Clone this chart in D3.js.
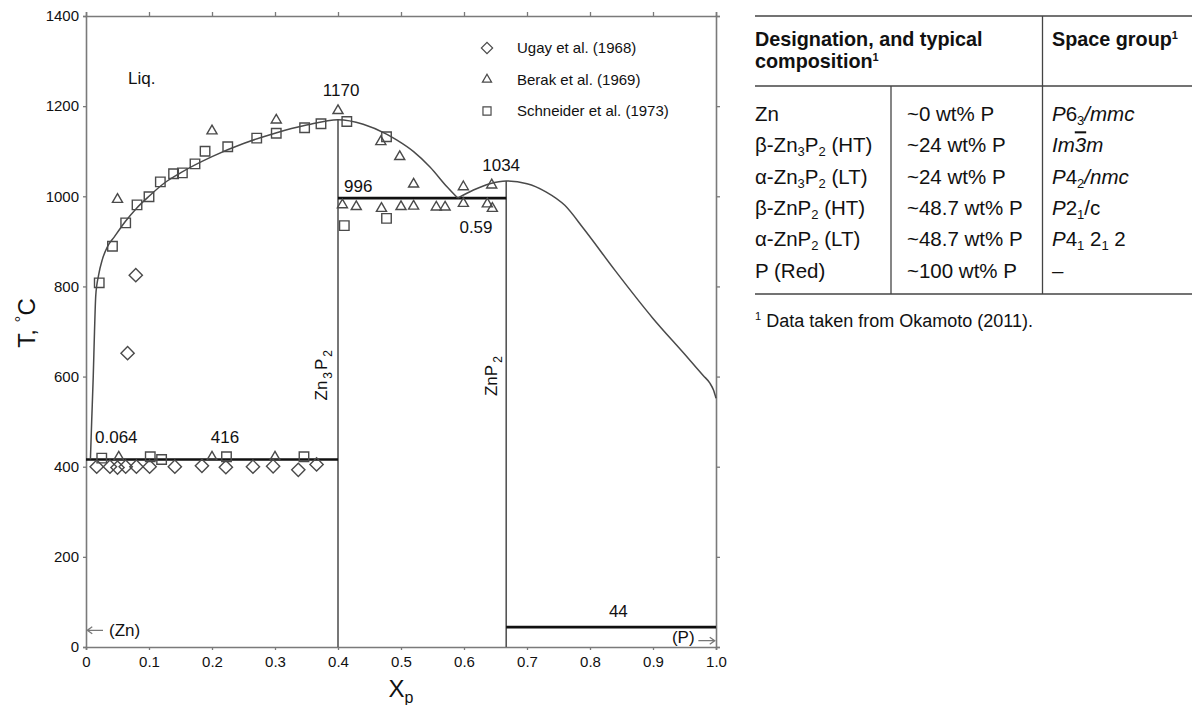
<!DOCTYPE html>
<html>
<head>
<meta charset="utf-8">
<script src="https://cdn.jsdelivr.net/npm/d3@7"></script>
<style>
  body { margin: 0; background: #fff; }
  svg { font-family: "Liberation Sans", Arial, Helvetica, sans-serif; }
</style>
</head>
<body>
<div id="graph"></div>
<script>
// ---- data (X_p, T in °C) ----
const ugay = [[0.079,825],[0.066,652],[0.017,400],[0.038,400],[0.050,398],[0.063,400],[0.080,400],
  [0.101,400],[0.141,400],[0.184,402],[0.222,399],[0.265,400],[0.297,401],[0.337,393],[0.366,405]];
const berak = [[0.050,993],[0.200,1145],[0.302,1169],[0.400,1190],[0.468,1121],[0.498,1088],[0.520,1027],
  [0.407,981],[0.429,977],[0.469,973],[0.500,977],[0.520,978],[0.556,976],[0.570,976],[0.599,1021],
  [0.599,984],[0.644,1025],[0.637,983],[0.645,973],[0.052,421],[0.200,421],[0.300,421]];
const schneider = [[0.021,808],[0.042,889],[0.063,941],[0.081,981],[0.100,999],[0.118,1032],[0.139,1050],
  [0.153,1052],[0.173,1072],[0.189,1100],[0.225,1110],[0.271,1129],[0.302,1140],[0.347,1152],[0.373,1161],
  [0.414,1166],[0.410,935],[0.477,1132],[0.477,951],[0.025,419],[0.102,422],[0.120,416],[0.223,422],[0.346,422]];

// liquidus, Zn side up to Zn3P2 and down to the 0.59 eutectic
const liquidusA = [[0.007,416],[0.009,500],[0.0115,600],[0.0135,700],[0.0155,780],[0.02,825],[0.026,860],
  [0.034,888],[0.045,910],[0.054,928],[0.063,945],[0.08,973],[0.1,1000],[0.125,1030],[0.15,1052],
  [0.2,1088],[0.25,1117],[0.3,1140],[0.35,1158],[0.4,1170],[0.44,1160],[0.477,1138],[0.493,1125],
  [0.52,1099],[0.546,1065],[0.573,1021],[0.59,996]];
// liquidus, eutectic over ZnP2 to P
const liquidusB = [[0.59,996],[0.615,1014],[0.641,1028],[0.667,1034],[0.70,1028],[0.73,1010],[0.76,980],
  [0.79,928],[0.84,835],[0.90,729],[0.95,650],[0.98,602],[0.99,586],[0.996,570],[1.0,552]];

// invariant lines [x1, x2, T]
const isotherms = [[0,0.4,416],[0.4,0.667,996],[0.667,1.0,44]];
// compound lines [x, Tmax]
const compounds = [[0.4,1170],[0.667,1034]];

const xTicks = [0,0.1,0.2,0.3,0.4,0.5,0.6,0.7,0.8,0.9,1.0];
const yTicks = [0,200,400,600,800,1000,1200,1400];

const legendNames = ["Ugay et al. (1968)","Berak et al. (1969)","Schneider et al. (1973)"];

// annotation text placed at data coordinates
const notes = [
  {t:"Liq.", x:0.0667, T:1249, a:"start"},
  {t:"1170", x:0.405, T:1222, a:"middle"},
  {t:"996", x:0.4095, T:1009, a:"start"},
  {t:"1034", x:0.659, T:1056, a:"middle"},
  {t:"0.59", x:0.619, T:918, a:"middle"},
  {t:"0.064", x:0.0143, T:452, a:"start"},
  {t:"416", x:0.198, T:452, a:"start"},
  {t:"44", x:0.845, T:66, a:"middle"}
];

// table contents; "_" = subscript digit, segments for space group
const tblDesig = ["Zn","β-Zn_3P_2 (HT)","α-Zn_3P_2 (LT)","β-ZnP_2 (HT)","α-ZnP_2 (LT)","P (Red)"];
const tblComp = ["~0 wt% P","~24 wt% P","~24 wt% P","~48.7 wt% P","~48.7 wt% P","~100 wt% P"];
const tblSpace = [
  [{t:"P",i:1},{t:"6"},{t:"3",s:1},{t:"/mmc",i:1}],
  [{t:"Im",i:1},{t:"3",i:1,o:1},{t:"m",i:1}],
  [{t:"P",i:1},{t:"4"},{t:"2",s:1},{t:"/nmc",i:1}],
  [{t:"P",i:1},{t:"2"},{t:"1",s:1},{t:"/c"}],
  [{t:"P",i:1},{t:"4"},{t:"1",s:1},{t:" 2"},{t:"1",s:1},{t:" 2"}],
  [{t:"–"}]
];

// ---- chart ----
const W = 1192, H = 705;
const svg = d3.select("#graph").append("svg").attr("width", W).attr("height", H);

const xScale = d3.scaleLinear().domain([0,1]).range([86,716]);
const yScale = d3.scaleLinear().domain([0,1400]).range([647,16]);
const frameCol = "#7a7a7a";
const markCol = "#4a4a4a";

//axes
const gx = svg.append("g").attr("transform","translate(0,647)")
  .call(d3.axisBottom(xScale).tickValues(xTicks).tickSize(3).tickPadding(6)
    .tickFormat(d => d === 0 ? "0" : d.toFixed(1)));
const gy = svg.append("g").attr("transform","translate(86,0)")
  .call(d3.axisLeft(yScale).tickValues(yTicks).tickSize(3).tickPadding(4).tickFormat(d3.format("d")));
const gt = svg.append("g").attr("transform","translate(0,16)")
  .call(d3.axisTop(xScale).tickValues(xTicks).tickSize(4).tickFormat(""));
const gr = svg.append("g").attr("transform","translate(716,0)")
  .call(d3.axisRight(yScale).tickValues(yTicks).tickSize(4).tickFormat(""));
[gx,gy,gt,gr].forEach(g => {
  g.select(".domain").attr("stroke", frameCol).attr("stroke-width", 1.6);
  g.selectAll(".tick line").attr("stroke", frameCol).attr("stroke-width", 1.3);
  g.selectAll(".tick text").attr("fill","#111").style("font-size","15px")
    .style("font-family", "'Liberation Sans', Arial, sans-serif");
});

// compound vertical lines
svg.selectAll(".comp").data(compounds).enter().append("line")
  .attr("x1", d => xScale(d[0])).attr("x2", d => xScale(d[0]))
  .attr("y1", yScale(0)).attr("y2", d => yScale(d[1]))
  .attr("stroke", "#555").attr("stroke-width", 1.6);

// isotherms
svg.selectAll(".iso").data(isotherms).enter().append("line")
  .attr("x1", d => xScale(d[0])).attr("x2", d => xScale(d[1]))
  .attr("y1", d => yScale(d[2])).attr("y2", d => yScale(d[2]))
  .attr("stroke", "#111").attr("stroke-width", 2.6);

// liquidus
const line = d3.line().x(d => xScale(d[0])).y(d => yScale(d[1])).curve(d3.curveMonotoneX);
[liquidusA, liquidusB].forEach(arr => {
  svg.append("path").attr("d", line(arr)).attr("fill","none")
    .attr("stroke", "#4a4a4a").attr("stroke-width", 1.5);
});

// markers
const shapes = [
  {data: ugay, sym: d3.symbol().type(d3.symbolSquare).size(88), rot: 45},
  {data: berak, sym: d3.symbol().type(d3.symbolTriangle).size(44), rot: 0},
  {data: schneider, sym: d3.symbol().type(d3.symbolSquare).size(90), rot: 0}
];
shapes.forEach(s => {
  svg.append("g").selectAll("path").data(s.data).enter().append("path")
    .attr("d", s.sym())
    .attr("transform", d => "translate(" + xScale(d[0]) + "," + yScale(d[1]) + ") rotate(" + s.rot + ")")
    .attr("fill","none").attr("stroke", markCol).attr("stroke-width", 1.4);
});

// legend
const legend = svg.append("g").attr("transform","translate(487,48)");
shapes.forEach((s,i) => {
  const scl = i === 1 ? 0.9 : 0.85;
  legend.append("path").attr("d", s.sym())
    .attr("transform", "translate(0," + (i*31.5) + ") rotate(" + s.rot + ") scale(" + scl + ")")
    .attr("fill","none").attr("stroke", markCol).attr("stroke-width", 1.4);
  legend.append("text").text(legendNames[i])
    .attr("x", 30).attr("y", i*31.5 + 5)
    .style("font-size","15px").attr("fill","#111");
});

// annotations
svg.selectAll(".note").data(notes).enter().append("text")
  .attr("x", d => xScale(d.x)).attr("y", d => yScale(d.T))
  .attr("text-anchor", d => d.a)
  .style("font-size","17px").attr("fill","#111")
  .text(d => d.t);

// end-member arrows
const arrow = (xa, xb, tv) => {
  const y = yScale(tv), x1 = xScale(xa), x2 = xScale(xb), dir = Math.sign(x2 - x1);
  svg.append("path")
    .attr("d", "M" + x1 + "," + y + "H" + x2 + "M" + (x2 - dir*5) + "," + (y-3.5) + "L" + x2 + "," + y + "L" + (x2 - dir*5) + "," + (y+3.5))
    .attr("fill","none").attr("stroke","#777").attr("stroke-width",1.3);
};
arrow(0.027, 0.002, 37);
svg.append("text").attr("x", xScale(0.0365)).attr("y", yScale(24)).style("font-size","17px").attr("fill","#111").text("(Zn)");
arrow(0.972, 0.998, 14);
svg.append("text").attr("x", xScale(0.966)).attr("y", yScale(8)).attr("text-anchor","end")
  .style("font-size","17px").attr("fill","#111").text("(P)");

// rotated compound labels with subscripts
function vertLabel(xv, tv, parts) {
  const t = svg.append("text")
    .attr("transform", "translate(" + xScale(xv) + "," + yScale(tv) + ") rotate(-90)")
    .attr("text-anchor","middle").style("font-size","17px").attr("fill","#111");
  parts.forEach(p => {
    if (p.s) t.append("tspan").text(p.t).attr("dx", 2).attr("dy", 5).style("font-size","12px");
    else t.append("tspan").text(p.t).attr("dx", p.back ? 2 : 0).attr("dy", p.back ? -5 : 0);
  });
}
vertLabel(0.3825, 603, [{t:"Zn"},{t:"3",s:1},{t:"P",back:1},{t:"2",s:1}]);
vertLabel(0.652, 601, [{t:"ZnP"},{t:"2",s:1}]);

// axis titles
const yt = svg.append("text").attr("transform","translate(35,323) rotate(-90)")
  .attr("text-anchor","middle").style("font-size","24px").attr("fill","#111");
yt.append("tspan").text("T, ");
yt.append("tspan").text("°").attr("dy",-8).style("font-size","17px");
yt.append("tspan").text("C").attr("dy",8);
const xt = svg.append("text").attr("x", xScale(0.5)).attr("y", 697)
  .attr("text-anchor","middle").style("font-size","24px").attr("fill","#111");
xt.append("tspan").text("X");
xt.append("tspan").text("p").attr("dy",6).style("font-size","16px");

// ---- table ----
const tb = svg.append("g");
const tL = 755, tR = 1192, c2 = 891, c3 = 1042.5;
const hLine = (y, w) => tb.append("line").attr("x1", tL).attr("x2", tR).attr("y1", y).attr("y2", y)
  .attr("stroke","#444").attr("stroke-width", w);
hLine(16, 1.6); hLine(86, 1.6); hLine(294, 1.6);
tb.append("line").attr("x1", c2).attr("x2", c2).attr("y1", 86).attr("y2", 294).attr("stroke","#444").attr("stroke-width",1.3);
tb.append("line").attr("x1", c3).attr("x2", c3).attr("y1", 16).attr("y2", 294).attr("stroke","#444").attr("stroke-width",1.3);

const hdr1 = tb.append("text").attr("x", tL).attr("y", 46).style("font-size","19.8px").style("font-weight","bold").attr("fill","#111");
hdr1.text("Designation, and typical");
const hdr2 = tb.append("text").attr("x", tL).attr("y", 68).style("font-size","19.8px").style("font-weight","bold").attr("fill","#111");
hdr2.append("tspan").text("composition");
hdr2.append("tspan").text("1").attr("dy",-7).style("font-size","11px");
const hdr3 = tb.append("text").attr("x", 1052).attr("y", 46).style("font-size","19.8px").style("font-weight","bold").attr("fill","#111");
hdr3.append("tspan").text("Space group");
hdr3.append("tspan").text("1").attr("dy",-7).style("font-size","11px");

// write a string where "_x" makes x a subscript
function subText(el, str) {
  const re = /_(\d)/g;
  let last = 0, m, shifted = false;
  while ((m = re.exec(str)) !== null) {
    if (m.index > last) {
      el.append("tspan").text(str.slice(last, m.index)).attr("dy", shifted ? -4 : 0);
      shifted = false;
    }
    el.append("tspan").text(m[1]).attr("dy", shifted ? 0 : 4).style("font-size","13px");
    shifted = true;
    last = re.lastIndex;
  }
  if (last < str.length) el.append("tspan").text(str.slice(last)).attr("dy", shifted ? -4 : 0);
}

const rowY = i => 121 + i * 31.3;
tblDesig.forEach((d,i) => {
  const t = tb.append("text").attr("x", tL).attr("y", rowY(i)).style("font-size","20.5px").attr("fill","#111");
  subText(t, d);
  tb.append("text").attr("x", 907).attr("y", rowY(i)).style("font-size","20.5px").attr("fill","#111").text(tblComp[i]);
  const s = tb.append("text").attr("x", 1052).attr("y", rowY(i)).style("font-size","20.5px").attr("fill","#111");
  let down = false;
  tblSpace[i].forEach(p => {
    const sp = s.append("tspan").text(p.t);
    if (p.i) sp.style("font-style","italic");
    if (p.o) sp.style("text-decoration","overline");
    if (p.s) { sp.attr("dy", down ? 0 : 4).style("font-size","13px"); down = true; }
    else { sp.attr("dy", down ? -4 : 0); down = false; }
  });
});

const fn = tb.append("text").attr("x", tL).attr("y", 327).style("font-size","18px").attr("fill","#111");
fn.append("tspan").text("1").attr("dy",-7).style("font-size","11px");
fn.append("tspan").text(" Data taken from Okamoto (2011).").attr("dy",7);
</script>
</body>
</html>
